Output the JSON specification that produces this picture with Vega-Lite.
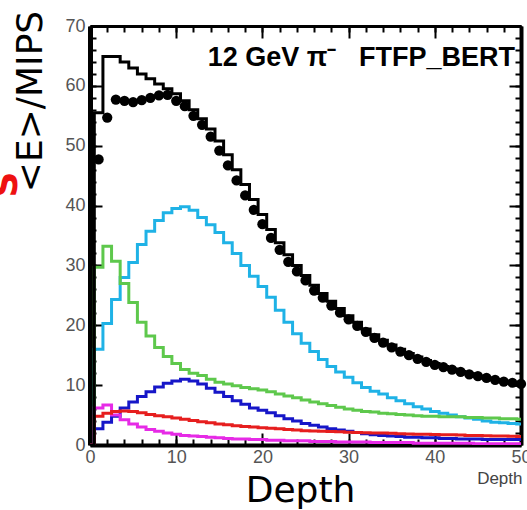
{
  "$schema": "https://vega.github.io/schema/vega-lite/v6.json",
  "width": 431,
  "height": 419,
  "autosize": {"type": "none"},
  "padding": {"left": 90, "top": 26, "right": 6, "bottom": 65},
  "background": "white",
  "config": {"view": {"stroke": null}},
  "data": {
    "values": [
      {"d": 0, "data": null, "total": 0, "c1": 0, "c2": 0, "c3": 0, "c4": 0, "c5": 0},
      {"d": 1, "data": 47.7, "total": 55.5, "c1": 16.0, "c2": 29.7, "c3": 2.7, "c4": 6.2, "c5": 4.8},
      {"d": 2, "data": 54.7, "total": 64.9, "c1": 20.3, "c2": 33.2, "c3": 3.8, "c4": 6.7, "c5": 5.3},
      {"d": 3, "data": 57.7, "total": 64.9, "c1": 24.3, "c2": 30.7, "c3": 4.8, "c4": 5.0, "c5": 5.6},
      {"d": 4, "data": 57.5, "total": 64.0, "c1": 28.0, "c2": 27.0, "c3": 6.2, "c4": 4.2, "c5": 5.7},
      {"d": 5, "data": 57.3, "total": 63.0, "c1": 30.5, "c2": 23.8, "c3": 7.2, "c4": 3.5, "c5": 5.6},
      {"d": 6, "data": 57.6, "total": 62.0, "c1": 33.5, "c2": 20.5, "c3": 8.1, "c4": 3.0, "c5": 5.4},
      {"d": 7, "data": 58.0, "total": 61.2, "c1": 35.7, "c2": 18.2, "c3": 8.9, "c4": 2.6, "c5": 5.1},
      {"d": 8, "data": 58.4, "total": 60.3, "c1": 37.5, "c2": 16.3, "c3": 9.7, "c4": 2.3, "c5": 4.9},
      {"d": 9, "data": 58.5, "total": 59.5, "c1": 38.8, "c2": 14.8, "c3": 10.3, "c4": 2.0, "c5": 4.7},
      {"d": 10, "data": 57.5, "total": 58.7, "c1": 39.5, "c2": 13.6, "c3": 10.7, "c4": 1.8, "c5": 4.5},
      {"d": 11, "data": 56.6, "total": 57.5, "c1": 39.8, "c2": 12.6, "c3": 11.0, "c4": 1.6, "c5": 4.3},
      {"d": 12, "data": 55.0, "total": 56.0, "c1": 39.2, "c2": 12.0, "c3": 10.7, "c4": 1.5, "c5": 4.1},
      {"d": 13, "data": 53.5, "total": 54.5, "c1": 38.0, "c2": 11.6, "c3": 10.2, "c4": 1.4, "c5": 3.9},
      {"d": 14, "data": 51.5, "total": 52.8, "c1": 36.8, "c2": 11.0, "c3": 9.5, "c4": 1.3, "c5": 3.7},
      {"d": 15, "data": 49.2, "total": 50.8, "c1": 35.5, "c2": 10.5, "c3": 8.8, "c4": 1.2, "c5": 3.5},
      {"d": 16, "data": 46.7, "total": 48.5, "c1": 33.8, "c2": 10.2, "c3": 8.1, "c4": 1.1, "c5": 3.4},
      {"d": 17, "data": 44.2, "total": 46.0, "c1": 32.0, "c2": 9.9, "c3": 7.4, "c4": 1.0, "c5": 3.2},
      {"d": 18, "data": 41.7, "total": 43.5, "c1": 30.0, "c2": 9.6, "c3": 6.8, "c4": 1.0, "c5": 3.1},
      {"d": 19, "data": 39.3, "total": 41.0, "c1": 28.2, "c2": 9.4, "c3": 6.2, "c4": 0.9, "c5": 3.0},
      {"d": 20, "data": 36.9, "total": 38.5, "c1": 26.5, "c2": 9.2, "c3": 5.8, "c4": 0.9, "c5": 2.9},
      {"d": 21, "data": 34.6, "total": 36.0, "c1": 24.7, "c2": 8.9, "c3": 5.4, "c4": 0.8, "c5": 2.8},
      {"d": 22, "data": 32.6, "total": 33.8, "c1": 22.5, "c2": 8.5, "c3": 4.9, "c4": 0.8, "c5": 2.7},
      {"d": 23, "data": 30.6, "total": 31.8, "c1": 20.5, "c2": 8.2, "c3": 4.4, "c4": 0.7, "c5": 2.6},
      {"d": 24, "data": 29.0, "total": 30.0, "c1": 18.6, "c2": 7.9, "c3": 4.0, "c4": 0.7, "c5": 2.5},
      {"d": 25, "data": 27.5, "total": 28.3, "c1": 17.0, "c2": 7.5, "c3": 3.6, "c4": 0.7, "c5": 2.4},
      {"d": 26, "data": 25.8, "total": 26.7, "c1": 15.6, "c2": 7.2, "c3": 3.3, "c4": 0.6, "c5": 2.35},
      {"d": 27, "data": 24.6, "total": 25.3, "c1": 14.3, "c2": 6.9, "c3": 3.0, "c4": 0.6, "c5": 2.3},
      {"d": 28, "data": 23.3, "total": 24.0, "c1": 13.1, "c2": 6.6, "c3": 2.7, "c4": 0.6, "c5": 2.25},
      {"d": 29, "data": 22.1, "total": 22.8, "c1": 12.2, "c2": 6.3, "c3": 2.5, "c4": 0.5, "c5": 2.2},
      {"d": 30, "data": 21.0, "total": 21.6, "c1": 11.3, "c2": 6.0, "c3": 2.3, "c4": 0.5, "c5": 2.15},
      {"d": 31, "data": 19.9, "total": 20.5, "c1": 10.4, "c2": 5.8, "c3": 2.1, "c4": 0.5, "c5": 2.1},
      {"d": 32, "data": 18.9, "total": 19.4, "c1": 9.6, "c2": 5.6, "c3": 1.9, "c4": 0.5, "c5": 2.05},
      {"d": 33, "data": 17.9, "total": 18.4, "c1": 9.0, "c2": 5.5, "c3": 1.7, "c4": 0.4, "c5": 2.0},
      {"d": 34, "data": 17.1, "total": 17.5, "c1": 8.5, "c2": 5.3, "c3": 1.6, "c4": 0.4, "c5": 2.0},
      {"d": 35, "data": 16.3, "total": 16.7, "c1": 7.9, "c2": 5.2, "c3": 1.5, "c4": 0.4, "c5": 1.95},
      {"d": 36, "data": 15.6, "total": 16.0, "c1": 7.4, "c2": 5.1, "c3": 1.4, "c4": 0.4, "c5": 1.9},
      {"d": 37, "data": 15.0, "total": 15.3, "c1": 6.9, "c2": 5.0, "c3": 1.3, "c4": 0.4, "c5": 1.85},
      {"d": 38, "data": 14.4, "total": 14.7, "c1": 6.4, "c2": 4.9, "c3": 1.3, "c4": 0.3, "c5": 1.8},
      {"d": 39, "data": 13.9, "total": 14.1, "c1": 6.0, "c2": 4.8, "c3": 1.2, "c4": 0.3, "c5": 1.8},
      {"d": 40, "data": 13.4, "total": 13.6, "c1": 5.6, "c2": 4.8, "c3": 1.2, "c4": 0.3, "c5": 1.75},
      {"d": 41, "data": 13.0, "total": 13.1, "c1": 5.3, "c2": 4.7, "c3": 1.1, "c4": 0.3, "c5": 1.7},
      {"d": 42, "data": 12.6, "total": 12.7, "c1": 5.0, "c2": 4.7, "c3": 1.1, "c4": 0.3, "c5": 1.7},
      {"d": 43, "data": 12.2, "total": 12.3, "c1": 4.7, "c2": 4.7, "c3": 1.0, "c4": 0.3, "c5": 1.65},
      {"d": 44, "data": 11.8, "total": 11.9, "c1": 4.5, "c2": 4.6, "c3": 1.0, "c4": 0.3, "c5": 1.6},
      {"d": 45, "data": 11.5, "total": 11.5, "c1": 4.3, "c2": 4.6, "c3": 1.0, "c4": 0.2, "c5": 1.6},
      {"d": 46, "data": 11.2, "total": 11.2, "c1": 4.0, "c2": 4.5, "c3": 0.9, "c4": 0.2, "c5": 1.55},
      {"d": 47, "data": 10.9, "total": 10.9, "c1": 3.8, "c2": 4.5, "c3": 0.9, "c4": 0.2, "c5": 1.5},
      {"d": 48, "data": 10.6, "total": 10.6, "c1": 3.7, "c2": 4.4, "c3": 0.9, "c4": 0.2, "c5": 1.5},
      {"d": 49, "data": 10.4, "total": 10.3, "c1": 3.6, "c2": 4.4, "c3": 0.9, "c4": 0.2, "c5": 1.45},
      {"d": 50, "data": 10.2, "total": 10.0, "c1": 3.5, "c2": 4.3, "c3": 0.9, "c4": 0.2, "c5": 1.4}
    ]
  },
  "layer": [
    {
      "transform": [{"fold": ["c1", "c2", "c3", "c4", "c5", "total"], "as": ["series", "E"]}],
      "mark": {"type": "line", "interpolate": "step", "strokeWidth": 3, "clip": true},
      "encoding": {
        "x": {
          "field": "d", "type": "quantitative",
          "scale": {"domain": [0, 50], "nice": false, "zero": false},
          "axis": {
            "orient": "bottom", "values": [0, 10, 20, 30, 40, 50], "grid": false,
            "tickSize": -12, "tickWidth": 2, "tickColor": "black",
            "domainColor": "black", "domainWidth": 4,
            "labelPadding": 15, "labelFont": "Liberation Sans", "labelFontSize": 18, "labelColor": "#555555",
            "labelFlush": false, "labelOverlap": false, "labelBound": false,
            "title": "Depth", "titleFont": "Liberation Sans", "titleFontSize": 17, "titleFontWeight": "normal",
            "titleColor": "#444444", "titleAlign": "right", "titleBaseline": "alphabetic",
            "titleX": 432, "titleY": 38
          }
        },
        "y": {
          "field": "E", "type": "quantitative",
          "scale": {"domain": [0, 70], "nice": false},
          "axis": {
            "orient": "left", "values": [0, 10, 20, 30, 40, 50, 60, 70], "grid": false,
            "tickSize": -12, "tickWidth": 2, "tickColor": "black",
            "domainColor": "black", "domainWidth": 5,
            "labelPadding": 17, "labelFont": "Liberation Sans", "labelFontSize": 18, "labelColor": "#555555",
            "labelFlush": false, "labelOverlap": false, "labelBound": false,
            "title": "<E>/MIPS", "titleFont": "DejaVu Sans", "titleFontSize": 36, "titleFontWeight": "normal",
            "titleColor": "black", "titleAngle": -90, "titleAlign": "center", "titleBaseline": "middle",
            "titleX": -60, "titleY": 75
          }
        },
        "color": {
          "field": "series", "type": "nominal",
          "scale": {"domain": ["c1", "c2", "c3", "c4", "c5", "total"], "range": ["#1fb2e6", "#5ec84c", "#1616c8", "#e62ae6", "#e61e1e", "#000000"]},
          "legend": null
        }
      }
    },
    {
      "transform": [{"filter": "datum.data != null"}],
      "mark": {"type": "circle", "size": 105, "color": "black", "opacity": 1},
      "encoding": {
        "x": {
          "field": "d", "type": "quantitative",
          "axis": {"orient": "top", "values": [0, 10, 20, 30, 40, 50], "grid": false, "labels": false, "title": null,
                   "tickSize": -12, "tickWidth": 2, "tickColor": "black", "domainColor": "black", "domainWidth": 3}
        },
        "y": {
          "field": "data", "type": "quantitative",
          "axis": {"orient": "right", "values": [0, 10, 20, 30, 40, 50, 60, 70], "grid": false, "labels": false, "title": null,
                   "tickSize": -12, "tickWidth": 2, "tickColor": "black", "domainColor": "black", "domainWidth": 4}
        }
      }
    },
    {
      "transform": [{"filter": "datum.data != null"}],
      "mark": {"type": "point", "opacity": 0},
      "encoding": {
        "x": {
          "field": "d", "type": "quantitative",
          "axis": {"orient": "bottom", "values": [0, 2, 4, 6, 8, 10, 12, 14, 16, 18, 20, 22, 24, 26, 28, 30, 32, 34, 36, 38, 40, 42, 44, 46, 48, 50],
                   "grid": false, "labels": false, "domain": false, "tickSize": -6, "tickWidth": 2, "tickColor": "black",
                   "title": "Depth", "titleFont": "DejaVu Sans", "titleFontSize": 36, "titleFontWeight": "normal",
                   "titleColor": "black", "titleAlign": "center", "titleBaseline": "alphabetic", "titleX": 210, "titleY": 56}
        },
        "y": {
          "field": "data", "type": "quantitative",
          "axis": {"orient": "left", "values": [0, 2, 4, 6, 8, 10, 12, 14, 16, 18, 20, 22, 24, 26, 28, 30, 32, 34, 36, 38, 40, 42, 44, 46, 48, 50, 52, 54, 56, 58, 60, 62, 64, 66, 68, 70],
                   "grid": false, "labels": false, "domain": false, "tickSize": -6, "tickWidth": 2, "tickColor": "black",
                   "title": "S", "titleFont": "DejaVu Sans", "titleFontSize": 36, "titleFontWeight": "bold",
                   "titleColor": "#ee1111", "titleAngle": -90, "titleAlign": "center", "titleBaseline": "middle",
                   "titleX": -85, "titleY": 158}
        }
      }
    },
    {
      "transform": [{"filter": "datum.data != null"}],
      "mark": {"type": "point", "opacity": 0},
      "encoding": {
        "x": {
          "field": "d", "type": "quantitative",
          "axis": {"orient": "top", "values": [0, 2, 4, 6, 8, 10, 12, 14, 16, 18, 20, 22, 24, 26, 28, 30, 32, 34, 36, 38, 40, 42, 44, 46, 48, 50],
                   "grid": false, "labels": false, "domain": false, "tickSize": -6, "tickWidth": 2, "tickColor": "black", "title": null}
        },
        "y": {
          "field": "data", "type": "quantitative",
          "axis": {"orient": "right", "values": [0, 2, 4, 6, 8, 10, 12, 14, 16, 18, 20, 22, 24, 26, 28, 30, 32, 34, 36, 38, 40, 42, 44, 46, 48, 50, 52, 54, 56, 58, 60, 62, 64, 66, 68, 70],
                   "grid": false, "labels": false, "domain": false, "tickSize": -6, "tickWidth": 2, "tickColor": "black", "title": null}
        }
      }
    },
    {
      "data": {"values": [{"label": "12 GeV π⁻\u00a0\u00a0\u00a0FTFP_BERT"}]},
      "mark": {"type": "text", "align": "right", "baseline": "alphabetic", "font": "Liberation Sans", "fontSize": 27, "fontWeight": "bold", "color": "black"},
      "encoding": {
        "x": {"datum": 49.3, "type": "quantitative", "axis": null},
        "y": {"datum": 63.4, "type": "quantitative", "axis": null},
        "text": {"field": "label"}
      }
    }
  ],
  "resolve": {"axis": {"x": "independent", "y": "independent"}}
}
